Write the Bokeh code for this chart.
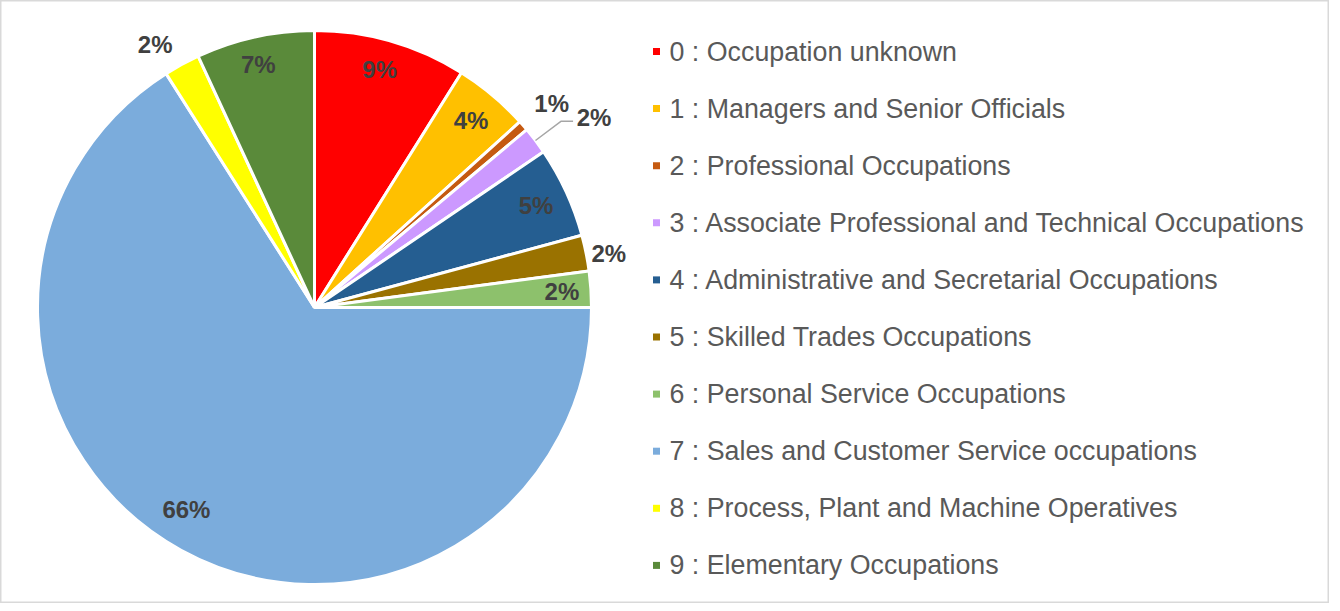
import math
from bokeh.plotting import figure
from bokeh.models import Range1d, ColumnDataSource
from bokeh.core.properties import value
from bokeh.embed import file_html
from bokeh.resources import INLINE

# ---- data ----
categories = [
    "0 : Occupation unknown",
    "1 : Managers and Senior Officials",
    "2 : Professional Occupations",
    "3 : Associate Professional and Technical Occupations",
    "4 : Administrative and Secretarial Occupations",
    "5 : Skilled Trades Occupations",
    "6 : Personal Service Occupations",
    "7 : Sales and Customer Service occupations",
    "8 : Process, Plant and Machine Operatives",
    "9 : Elementary Occupations",
]
shares = [8.9, 4.4, 0.6, 1.6, 5.3, 2.1, 2.1, 66.0, 2.1, 6.9]
colors = ["#FF0000", "#FFC000", "#C55A11", "#CC99FF", "#255E91",
          "#9A7200", "#8DC16C", "#7BACDC", "#FFFF00", "#5A8A3A"]

# ---- layout (styling only) ----
W, H = 1329, 603
CX, CY, R = 314, 296, 277
label_r = [0.89, 0.88, 1.13, 1.22, 0.88, 1.08, 0.895, 0.863, 1.11, 0.90]
label_dang = [-0.7, 0.0, 0.3, 2.9, 0.0, 1.0, 0.0, 3.6, -2.6, -0.6]  # degrees clockwise

p = figure(width=W, height=H, output_backend="svg", toolbar_location=None,
           x_range=Range1d(0, W), y_range=Range1d(0, H), min_border=0)
p.axis.visible = False
p.grid.visible = False
p.outline_line_color = "#d9d9d9"
p.outline_line_width = 2
p.background_fill_color = "white"
p.border_fill_color = "white"

total = sum(shares)
starts, ends, mids = [], [], []
cum = 0.0
for v in shares:
    a0 = cum / total
    cum += v
    a1 = cum / total
    starts.append(math.pi / 2 - 2 * math.pi * a0)
    ends.append(math.pi / 2 - 2 * math.pi * a1)
    mids.append((a0 + a1) / 2 * 360.0)  # clockwise from top, degrees

src = ColumnDataSource(dict(start=starts, end=ends, color=colors))
p.wedge(x=CX, y=CY, radius=R, start_angle="start", end_angle="end",
        direction="clock", fill_color="color", line_color="white",
        line_width=3, source=src)

# data labels
lx, ly, lt = [], [], []
for i, v in enumerate(shares):
    ang = math.radians(mids[i] + label_dang[i])
    r = label_r[i] * R
    lx.append(CX + r * math.sin(ang))
    ly.append(CY + r * math.cos(ang))
    lt.append(f"{round(v / total * 100):.0f}%")

# leader line for the small purple slice
i = 3
am = math.radians(mids[i])
x0, y0 = CX + R * math.sin(am), CY + R * math.cos(am)
x1, y1 = CX + 1.115 * R * math.sin(am), CY + 1.115 * R * math.cos(am)
x2 = lx[i] - 21
p.line([x0, x1, x2], [y0, y1, y1 + 0], line_color="#a6a6a6", line_width=1.5)

p.text(x=lx, y=ly, text=lt, text_align="center", text_baseline="middle",
       text_font=value("Liberation Sans"), text_font_style="bold",
       text_font_size="24px", text_color="#404040")

# legend
leg_y = [H - (51 + 57.1 * k) for k in range(len(categories))]
p.scatter(x=[656] * len(categories), y=leg_y, marker="square", size=7,
          fill_color=colors, line_color=None)
p.text(x=[669] * len(categories), y=leg_y, text=categories,
       text_align="left", text_baseline="middle",
       text_font=value("Liberation Sans"), text_font_size="26.8px",
       text_color="#595959")

open("out.html", "w").write(file_html(p, INLINE))
